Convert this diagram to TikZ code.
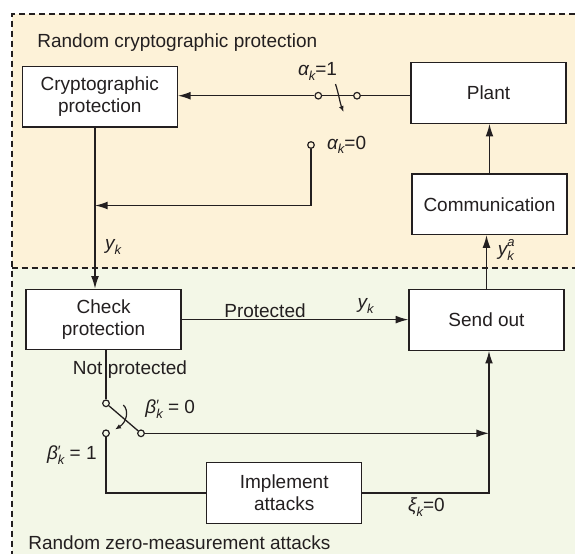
\documentclass[tikz,border=0pt]{standalone}
\usepackage{fontspec}
\setmainfont{Liberation Sans}
\usetikzlibrary{arrows.meta}
\definecolor{upbg}{HTML}{FDF2D8}
\definecolor{lowbg}{HTML}{F3F7E7}
\definecolor{ink}{HTML}{231F20}
\newcommand{\mysub}[1]{\raisebox{-0.45ex}{\fontsize{6.5}{7}\selectfont\itshape #1}}
\newcommand{\mysupsub}[2]{\rlap{\raisebox{0.9ex}{\fontsize{6.5}{7}\selectfont\itshape #1}}\raisebox{-0.45ex}{\fontsize{6.5}{7}\selectfont\itshape #2}}
\newcommand{\myprime}[1]{\rlap{\raisebox{0.3ex}{\fontsize{7.5}{8}\selectfont\char"2032}}\raisebox{-0.45ex}{\fontsize{6.5}{7}\selectfont\itshape #1}}
\begin{document}
\begin{tikzpicture}[x=0.5pt,y=-0.5pt,
  font=\fontsize{9.5}{10.8}\selectfont, color=ink,
  box/.style={draw, fill=white, line width=0.65pt, minimum width=77.5pt, minimum height=30.2pt, inner sep=0pt, align=center},
  contact/.style={circle, draw, line width=0.6pt, minimum size=3.3pt, inner sep=0pt},
  conn/.style={line width=0.65pt},
  arr/.style={conn, -{Latex[length=6.3pt,width=3.9pt]}},
  swarr/.style={line width=0.6pt, -{Latex[length=3pt,width=2.4pt]}},
  region/.style={dash pattern=on 3pt off 2pt, line width=0.9pt},
  lbl/.style={inner sep=0pt}]
\useasboundingbox (0,0) rectangle (575,554);
% regions
\fill[upbg] (11.7,14) rectangle (575,267.7);
\fill[lowbg] (11.7,267.7) rectangle (575,554);
\draw[region] (575,14) -- (11.7,14) -- (11.7,554);
\draw[region] (11.7,267.7) -- (575,267.7);
\node[lbl, anchor=west] (t1) at (37,42.7) {Random cryptographic protection};
\node[lbl, anchor=west] (t2) at (28,543) {Random zero-measurement attacks};
% boxes
\node[box] (crypto) at (99.8,96.8) {Cryptographic\\protection};
\node[box] (plant) at (488.5,93) {Plant};
\node[box] (comm) at (489.5,204.3) {Communication};
\node[box] (check) at (103.6,319.6) {Check\\protection};
\node[box] (send) at (486.5,320) {Send out};
\node[box] (impl) at (284.2,493) {Implement\\attacks};
% switch alpha
\node[contact] (a1) at (318.3,95.7) {};
\node[contact] (a1r) at (357,95.7) {};
\node[contact] (a0) at (311,145) {};
\coordinate (j1) at (95,205.5);
\draw[arr] (a1) -- (a1 -| crypto.east);
\draw[conn] (plant.west |- a1r) -- (a1r);
\draw[conn] (a1) -- (a1r);
\draw[swarr] (335.5,84) .. controls (339,95) and (340,103) .. (343.5,112);
\draw[arr] (a0) |- (j1);
\draw[arr] (j1 |- crypto.south) -- (j1 |- check.north);
\node[lbl] (la1) at (317.5,71.7) {{\itshape α}\mysub{k}=1};
\node[lbl, anchor=west] (la0) at (326.7,145) {{\itshape α}\mysub{k}=0};
\node[lbl] (ly1) at (113,247) {{\itshape y}\mysub{k}};
% right column
\draw[arr] (comm.north) -- (comm.north |- plant.south);
\draw[arr] (send.north) -- (send.north |- comm.south);
\node[lbl] (lya) at (506,250) {{\itshape y}\mysupsub{a}{k}};
% protected path
\draw[arr] (check.east) -- (check.east -| send.west);
\node[lbl] (lp) at (265,310.7) {Protected};
\node[lbl] (ly2) at (365.6,306) {{\itshape y}\mysub{k}};
% switch beta
\node[contact] (bt) at (106,403.3) {};
\node[contact] (b1) at (106,433.3) {};
\node[contact] (b0) at (141,433.3) {};
\coordinate (c2) at (489,433.3);
\draw[conn] (bt) -- (bt |- check.south);
\node[lbl] (lnp) at (130,370) {Not protected};
\draw[conn] (bt) -- (b0);
\draw[swarr] (123.3,405) .. controls (129,410) and (127,422) .. (115,429.5);
\draw[arr] (b0) -- (c2);
\draw[conn] (b1) |- (impl.west);
\draw[arr] (impl.east) -| (c2 |- send.south);
\node[lbl, anchor=west] (lb0) at (145,409) {{\itshape β}\myprime{k} = 0};
\node[lbl, anchor=west] (lb1) at (46.7,455) {{\itshape β}\myprime{k} = 1};
\node[lbl, anchor=west] (lxi) at (407.7,507.3) {{\itshape ξ}\mysub{k}=0};
\end{tikzpicture}
\end{document}
